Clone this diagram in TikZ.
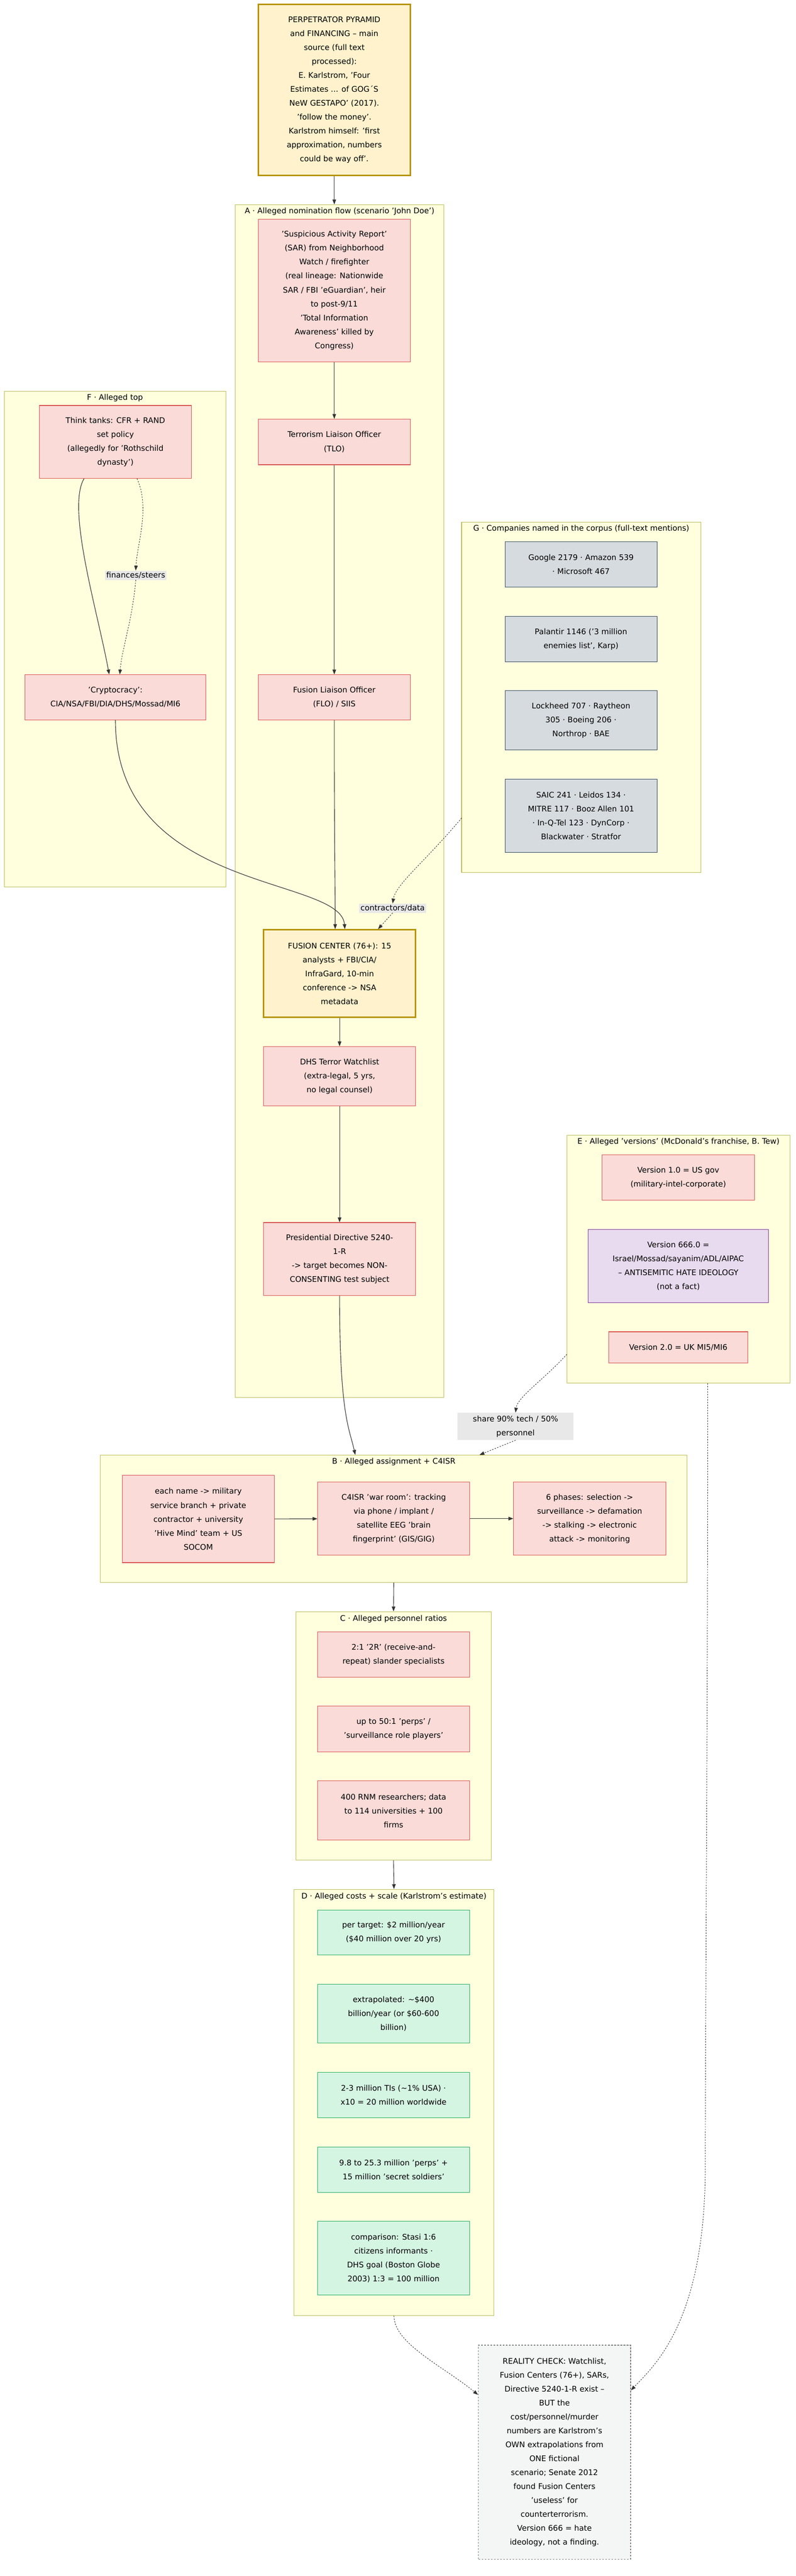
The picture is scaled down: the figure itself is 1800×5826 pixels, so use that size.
\documentclass[tikz,border=0pt]{standalone}
\usepackage{fontspec}
\setmainfont{DejaVu Sans}
\usetikzlibrary{arrows.meta,calc}
\definecolor{pinkf}{HTML}{FADBD8}\definecolor{pinkd}{HTML}{D9534F}
\definecolor{clf}{HTML}{FFFFDE}\definecolor{cld}{HTML}{BDBD5A}
\definecolor{goldf}{HTML}{FFF2CC}\definecolor{goldd}{HTML}{B7950B}
\definecolor{grayf}{HTML}{D6DBDF}\definecolor{grayd}{HTML}{34495E}
\definecolor{greenf}{HTML}{D5F5E3}\definecolor{greend}{HTML}{27AE60}
\definecolor{purpf}{HTML}{E8DAEF}\definecolor{purpd}{HTML}{7D3C98}
\definecolor{realf}{HTML}{F4F6F6}\definecolor{lblf}{HTML}{E8E8E8}
\begin{document}
\begin{tikzpicture}[x=1pt,y=-1pt,
  every node/.style={font=\fontsize{17.5}{31.5}\selectfont, align=center, inner sep=0pt},
  box/.style={draw, line width=1.2pt, minimum width=344},
  pinkbox/.style={box, fill=pinkf, draw=pinkd},
  goldbox/.style={box, fill=goldf, draw=goldd, line width=3.5pt},
  graybox/.style={box, fill=grayf, draw=grayd},
  greenbox/.style={box, fill=greenf, draw=greend},
  purpbox/.style={box, fill=purpf, draw=purpd},
  realbox/.style={box, fill=realf, draw=gray, dashed, line width=2pt, dash pattern=on 4pt off 3pt},
  cluster/.style={draw=cld, fill=clf, line width=1.2pt},
  ctitle/.style={},
  lbl/.style={fill=lblf, inner sep=3pt},
  arr/.style={draw=black!80, line width=1.3pt, -{Triangle[length=11pt,width=8pt]}},
  darr/.style={arr, dash pattern=on 3pt off 3pt, line width=1.1pt},
]
\useasboundingbox (0,0) rectangle (1800,5826);
\fill[white] (0,0) rectangle (1800,5826);
% clusters
\node[cluster, minimum width=472, minimum height=2698] (Acl) at (768,1812) {};
\node[ctitle] (At) at (768,478) {A · Alleged nomination flow (scenario 'John Doe')};
\node[cluster, minimum width=501, minimum height=1121] (Fcl) at (260.5,1445.5) {};
\node[ctitle] (Ft) at (260,900) {F · Alleged top};
\node[cluster, minimum width=541, minimum height=792] (Gcl) at (1314.5,1577) {};
\node[ctitle] (Gt) at (1314.5,1196) {G · Companies named in the corpus (full-text mentions)};
\node[cluster, minimum width=505, minimum height=561] (Ecl) at (1534.5,2847.5) {};
\node[ctitle] (Et) at (1534.5,2582) {E · Alleged 'versions' (McDonald's franchise, B. Tew)};
\node[cluster, minimum width=1327, minimum height=288] (Bcl) at (890.5,3435) {};
\node[ctitle] (Bt) at (890.5,3306) {B · Alleged assignment + C4ISR};
\node[cluster, minimum width=442, minimum height=562] (Ccl) at (890,3926) {};
\node[ctitle] (Ct) at (890,3661) {C · Alleged personnel ratios};
\node[cluster, minimum width=452, minimum height=964] (Dcl) at (891,4755) {};
\node[ctitle] (Dt) at (891,4289) {D · Alleged costs + scale (Karlstrom's estimate)};
% nodes
\node[goldbox, minimum height=387] (top) at (756,203.5) {PERPETRATOR PYRAMID\\and FINANCING -- main\\source (full text\\processed):\\E. Karlstrom, 'Four\\Estimates ... of GOG´S\\NeW GESTAPO' (2017).\\'follow the money'.\\Karlstrom himself: 'first\\approximation, numbers\\could be way off'.};
\node[pinkbox, minimum height=322] (sar) at (756,657) {'Suspicious Activity Report'\\(SAR) from Neighborhood\\Watch / firefighter\\(real lineage: Nationwide\\SAR / FBI 'eGuardian', heir\\to post-9/11\\'Total Information\\Awareness' killed by\\Congress)};
\node[pinkbox, minimum height=103] (tlo) at (756,999.5) {Terrorism Liaison Officer\\(TLO)};
\node[pinkbox, minimum height=102] (flo) at (756,1577) {Fusion Liaison Officer\\(FLO) / SIIS};
\node[pinkbox, minimum height=165] (think) at (261,999.5) {Think tanks: CFR + RAND\\set policy\\(allegedly for 'Rothschild\\dynasty')};
\node[pinkbox, minimum width=408, minimum height=102] (crypto) at (261,1577) {'Cryptocracy':\\CIA/NSA/FBI/DIA/DHS/Mossad/MI6};
\node[graybox, minimum height=103] (g1) at (1314,1276.5) {Google 2179 · Amazon 539\\· Microsoft 467};
\node[graybox, minimum height=103] (g2) at (1314,1445.5) {Palantir 1146 ('3 million\\enemies list', Karp)};
\node[graybox, minimum height=134] (g3) at (1314,1629) {Lockheed 707 · Raytheon\\305 · Boeing 206 ·\\Northrop · BAE};
\node[graybox, minimum height=166] (g4) at (1314,1845) {SAIC 241 · Leidos 134 ·\\MITRE 117 · Booz Allen 101\\· In-Q-Tel 123 · DynCorp ·\\Blackwater · Stratfor};
\node[goldbox, minimum height=198] (fusion) at (768,2202) {FUSION CENTER (76+): 15\\analysts + FBI/CIA/\\InfraGard, 10-min\\conference -> NSA\\metadata};
\node[pinkbox, minimum height=134] (dhs) at (768,2434) {DHS Terror Watchlist\\(extra-legal, 5 yrs,\\no legal counsel)};
\node[pinkbox, minimum height=165] (pres) at (768,2847.5) {Presidential Directive 5240-\\1-R\\-> target becomes NON-\\CONSENTING test subject};
\node[pinkbox, minimum height=102] (v1) at (1534,2663) {Version 1.0 = US gov\\(military-intel-corporate)};
\node[purpbox, minimum width=408, minimum height=165] (v666) at (1534,2863.5) {Version 666.0 =\\Israel/Mossad/sayanim/ADL/AIPAC\\-- ANTISEMITIC HATE IDEOLOGY\\(not a fact)};
\node[pinkbox, minimum width=315, minimum height=71] (v2) at (1534,3047.5) {Version 2.0 = UK MI5/MI6};
\node[pinkbox, minimum height=197] (b1) at (448.5,3435.5) {each name -> military\\service branch + private\\contractor + university\\'Hive Mind' team + US\\SOCOM};
\node[pinkbox, minimum height=165] (b2) at (890.5,3434.5) {C4ISR 'war room': tracking\\via phone / implant /\\satellite EEG 'brain\\fingerprint' (GIS/GIG)};
\node[pinkbox, minimum height=165] (b3) at (1333.5,3434.5) {6 phases: selection ->\\surveillance -> defamation\\-> stalking -> electronic\\attack -> monitoring};
\node[pinkbox, minimum height=102] (c1) at (890,3742) {2:1 '2R' (receive-and-\\repeat) slander specialists};
\node[pinkbox, minimum height=103] (c2) at (890,3910.5) {up to 50:1 'perps' /\\'surveillance role players'};
\node[pinkbox, minimum height=134] (c3) at (890,4095) {400 RNM researchers; data\\to 114 universities + 100\\firms};
\node[greenbox, minimum height=101] (d1) at (890,4370.5) {per target: \$2 million/year\\(\$40 million over 20 yrs)};
\node[greenbox, minimum height=133] (d2) at (890,4554.5) {extrapolated: \textasciitilde\$400\\billion/year (or \$60-600\\billion)};
\node[greenbox, minimum height=103] (d3) at (890,4738.5) {2-3 million TIs (\textasciitilde1\% USA) ·\\x10 = 20 million worldwide};
\node[greenbox, minimum height=102] (d4) at (890,4907) {9.8 to 25.3 million 'perps' +\\15 million 'secret soldiers'};
\node[greenbox, minimum height=166] (d5) at (890,5107) {comparison: Stasi 1:6\\citizens informants ·\\DHS goal (Boston Globe\\2003) 1:3 = 100 million};
\node[realbox, minimum height=484] (real) at (1254,5546) {REALITY CHECK: Watchlist,\\Fusion Centers (76+), SARs,\\Directive 5240-1-R exist --\\BUT the\\cost/personnel/murder\\numbers are Karlstrom's\\OWN extrapolations from\\ONE fictional\\scenario; Senate 2012\\found Fusion Centers\\'useless' for\\counterterrorism.\\Version 666 = hate\\ideology, not a finding.};
% labels
\node[lbl] (lfin) at (307,1301) {finances/steers};
\node[lbl] (lcon) at (888,2054) {contractors/data};
\node[lbl, minimum width=262, minimum height=62] (lsh) at (1166,3226) {share 90\% tech / 50\%\\personnel};
\coordinate (gx) at (1044,1850);
\coordinate (ex) at (1282,3063);
% edges
\draw[arr] (top.south) -- (Acl.north -| top.south);
\draw[arr] (sar) -- (tlo);
\draw[arr] (tlo) -- (flo);
\draw[arr] (flo.south) .. controls (756,1900) and (758,2000) .. (fusion.north -| 758,0);
\draw[arr] ($(think.south)+(-71,0)$) .. controls (150,1150) and (220,1380) .. ($(crypto.north)+(-14,0)$);
\draw[darr] ($(think.south)+(49,0)$) .. controls (340,1150) and (310,1230) .. (lfin.north);
\draw[darr] (lfin.south) .. controls (300,1400) and (275,1470) .. ($(crypto.north)+(10,0)$);
\draw[arr] (crypto.south) .. controls (261,2020) and (770,1980) .. ($(fusion.north)+(12,0)$);
\draw[darr] (gx) .. controls (960,1950) and (895,2000) .. (lcon.north);
\draw[darr] (lcon.south) -- ($(fusion.north)+(87,0)$);
\draw[arr] (fusion) -- (dhs);
\draw[arr] (dhs) -- (pres);
\draw[arr] (pres.south) .. controls (768,3200) and (790,3230) .. ($(Bcl.north)+(-87,0)$);
\draw[darr] (ex) .. controls (1230,3120) and (1170,3160) .. (lsh.north);
\draw[darr] (lsh.south) -- ($(Bcl.north)+(194,0)$);
\draw[arr] (b1) -- (b2);
\draw[arr] (b2) -- (b3);
\draw[arr] (Bcl.south) -- (Ccl.north);
\draw[arr] (Ccl.south) -- (Dcl.north);
\draw[darr] (Dcl.south) .. controls (891,5300) and (1000,5350) .. ($(real.west)+(0,-130)$);
\draw[darr] ($(Ecl.south)+(66,0)$) .. controls (1601,3800) and (1595,4600) .. (1595,4900) .. controls (1595,5250) and (1480,5350) .. ($(real.east)+(0,-140)$);
\end{tikzpicture}
\end{document}
